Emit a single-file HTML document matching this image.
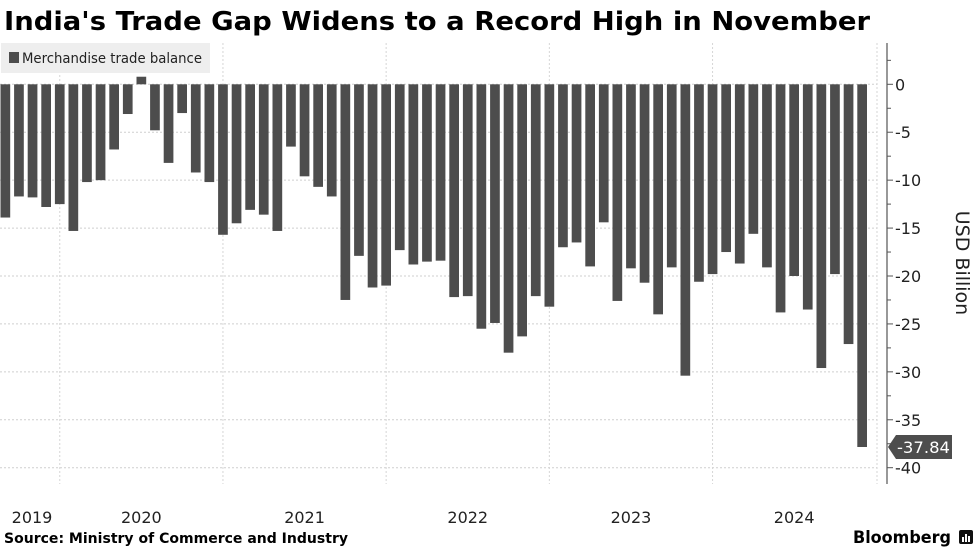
<!DOCTYPE html>
<html><head><meta charset="utf-8"><style>
html,body{margin:0;padding:0;background:#fff;}
svg{display:block;font-family:"DejaVu Sans","Liberation Sans",sans-serif;}
</style></head><body>
<svg id="chart" width="977" height="549" viewBox="0 0 977 549" xmlns="http://www.w3.org/2000/svg">
<text x="4" y="30" font-size="26" font-weight="bold" fill="#000" textLength="866" lengthAdjust="spacingAndGlyphs">India's Trade Gap Widens to a Record High in November</text>
<g id="grid"></g>
<g id="bars"></g>
<g id="axis"></g>
<rect x="1" y="43" width="209" height="30" fill="#eeeeee"/>
<rect x="9" y="52" width="10" height="11" fill="#4d4d4d"/>
<text x="22" y="63" font-size="14" fill="#222" textLength="180" lengthAdjust="spacingAndGlyphs">Merchandise trade balance</text>
<text transform="translate(956,263) rotate(90)" text-anchor="middle" font-size="19" fill="#222">USD Billion</text>
<text x="4" y="543" font-size="14" font-weight="bold" fill="#000" textLength="344" lengthAdjust="spacingAndGlyphs">Source: Ministry of Commerce and Industry</text>
<text x="853" y="543" font-size="17" font-weight="bold" fill="#000" textLength="98" lengthAdjust="spacingAndGlyphs">Bloomberg</text>
<g>
<rect x="959" y="530" width="14" height="14" rx="2" fill="#111"/>
<rect x="962" y="537" width="2" height="5" fill="#fff"/><rect x="965" y="534" width="2" height="8" fill="#fff"/><rect x="968" y="536" width="2" height="6" fill="#fff"/>
</g>
</svg>
<script>
const months = 64; // Aug 2019 .. Nov 2024
const values = [-13.9,-11.7,-11.8,-12.8,-12.5,-15.3,-10.2,-10.0,-6.8,-3.1,0.79,-4.8,-8.2,-3.0,-9.2,-10.2,-15.7,-14.5,-13.1,-13.6,-15.3,-6.5,-9.6,-10.7,-11.7,-22.5,-17.9,-21.2,-21.0,-17.3,-18.8,-18.5,-18.4,-22.2,-22.1,-25.5,-24.9,-28.0,-26.3,-22.1,-23.2,-17.0,-16.5,-19.0,-14.4,-22.6,-19.2,-20.7,-24.0,-19.1,-30.4,-20.6,-19.8,-17.5,-18.7,-15.6,-19.1,-23.8,-20.0,-23.5,-29.6,-19.8,-27.1,-37.84];
const yTicks = [0,-5,-10,-15,-20,-25,-30,-35,-40];
const yearLabels = ["2019","2020","2021","2022","2023","2024"];
const yearJanIndex = [-7,5,17,29,41,53];
const lastLabel = "-37.84";

const NS="http://www.w3.org/2000/svg";
const step=13.6, bw=9.7, x0=0.5;
const y0=84.3, ppu=9.585;
function xb(i){return x0+i*step;}
function xc(i){return xb(i)+bw/2;}
function y(v){return y0-v*ppu;}
function mk(tag,attrs,parent){const e=document.createElementNS(NS,tag);for(const k in attrs)e.setAttribute(k,attrs[k]);parent.appendChild(e);return e;}
const grid=document.getElementById('grid'), bars=document.getElementById('bars'), axis=document.getElementById('axis');
const plotR=877;
yTicks.forEach(t=>{
  const l=mk('line',{x1:0,x2:plotR,y1:y(t),y2:y(t),stroke:'#cfcfcf','stroke-width':1,'stroke-dasharray':'2,2'},grid);
  
  
  const tk=mk('line',{x1:887,x2:893,y1:y(t),y2:y(t),stroke:'#555','stroke-width':1},axis);
  
  
  const tx=mk('text',{x:895,y:y(t)+6,'font-size':16,fill:'#222'},axis);
  tx.textContent=String(Math.abs(t)===0?'0':'-'+Math.abs(t));
  
  
});
for(let v=2.5; v>-42; v-=5){
  const m=mk('line',{x1:887,x2:891,y1:y(v),y2:y(v),stroke:'#555','stroke-width':1},axis);
  
  
}
const al=mk('line',{x1:887,x2:887,y1:43,y2:484,stroke:'#555','stroke-width':1.2},axis);


const pr=mk('line',{x1:plotR,x2:plotR,y1:43,y2:484,stroke:'#d6d6d6','stroke-width':1,'stroke-dasharray':'2,2'},grid);


yearJanIndex.forEach((ji,k)=>{
  const gx=xc(ji-1);
  if(gx>0){
    const g=mk('line',{x1:gx,x2:gx,y1:43,y2:484,stroke:'#d6d6d6','stroke-width':1,'stroke-dasharray':'2,2'},grid);
    
    
  }
  let lx=xc(ji+5);
  if(lx<32) lx=32;
  const t=mk('text',{x:lx,y:523,'font-size':16,fill:'#222','text-anchor':'middle'},axis);
  t.textContent=yearLabels[k];
  
  
});
values.forEach((v,i)=>{
  const top=Math.min(y(v),y(0)), h=Math.abs(y(v)-y(0));
  const r=mk('rect',{x:xb(i),y:top,width:bw,height:h,fill:'#4d4d4d'},bars);
  
  
});
const lv=values[values.length-1], ly=y(lv);
const tag=mk('path',{d:`M888 ${ly} L896 ${ly-12} L952 ${ly-12} L952 ${ly+12} L896 ${ly+12} Z`,fill:'#4d4d4d'},axis);


const tt=mk('text',{x:897,y:ly+6,'font-size':16,fill:'#fff',textLength:53,lengthAdjust:'spacingAndGlyphs'},axis);
tt.textContent=lastLabel;


</script>
</body></html>
